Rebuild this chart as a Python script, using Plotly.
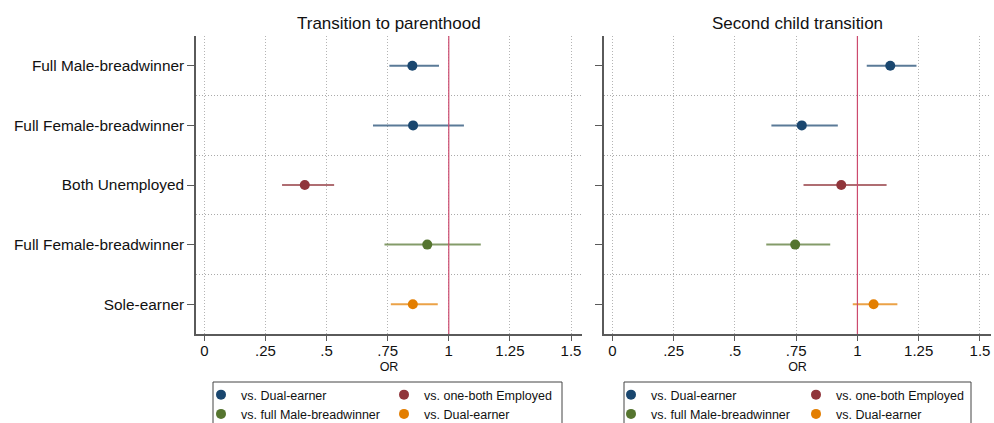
import plotly.graph_objects as go

# Row labels (top to bottom) shared by both panels
categories = [
    "Full Male-breadwinner",
    "Full Female-breadwinner",
    "Both Unemployed",
    "Full Female-breadwinner",
    "Sole-earner",
]

# Odds ratios and 95% CIs, transition to parenthood
parent_or = [0.851, 0.854, 0.411, 0.912, 0.853]
parent_lo = [0.757, 0.690, 0.318, 0.737, 0.763]
parent_hi = [0.960, 1.062, 0.531, 1.131, 0.955]

# Odds ratios and 95% CIs, second child transition
second_or = [1.134, 0.773, 0.934, 0.746, 1.066]
second_lo = [1.038, 0.649, 0.780, 0.628, 0.981]
second_hi = [1.241, 0.920, 1.119, 0.889, 1.163]

# Reference groups: label, rows belonging to it, colour, legend column
series_labels = ["vs. Dual-earner", "vs. one-both Employed",
                 "vs. full Male-breadwinner", "vs. Dual-earner"]
series_rows = [[0, 1], [2], [3], [4]]
series_colors = ["#1a476f", "#90353b", "#55752f", "#e37e00"]
series_column = [0, 1, 0, 1]

x_tickvals = [0, 0.25, 0.5, 0.75, 1, 1.25, 1.5]
x_ticktext = ["0", ".25", ".5", ".75", "1", "1.25", "1.5"]
REF_OR = 1

FONT = "Liberation Sans, Arial, Helvetica, sans-serif"
W, H = 994, 423
AXIS_COL = "#5a5a5a"
DOTS = "1px,2px"


def px_x(v):
    return v / W


def px_y(v):
    return 1 - v / H


def rgba(hex_col, a):
    h = hex_col.lstrip("#")
    r, g, b = int(h[0:2], 16), int(h[2:4], 16), int(h[4:6], 16)
    return f"rgba({r},{g},{b},{a})"


fig = go.Figure()

panels = [
    dict(est=parent_or, lo=parent_lo, hi=parent_hi, xa="x", ya="y",
         legends=["legend", "legend2"], title="Transition to parenthood",
         dom=[px_x(196), px_x(582)]),
    dict(est=second_or, lo=second_lo, hi=second_hi, xa="x2", ya="y2",
         legends=["legend3", "legend4"], title="Second child transition",
         dom=[px_x(604), px_x(991)]),
]

for p in panels:
    for label, rows, col, legcol in zip(series_labels, series_rows,
                                        series_colors, series_column):
        xs = [p["est"][r] for r in rows]
        plus = [p["hi"][r] - p["est"][r] for r in rows]
        minus = [p["est"][r] - p["lo"][r] for r in rows]
        fig.add_trace(go.Scatter(
            x=xs, y=rows, mode="markers", name=label,
            xaxis=p["xa"], yaxis=p["ya"],
            legend=p["legends"][legcol],
            marker=dict(color=col, size=10, line=dict(width=0)),
            error_x=dict(type="data", symmetric=False, array=plus,
                         arrayminus=minus, width=0, thickness=2,
                         color=rgba(col, 0.72)),
            hoverinfo="skip",
        ))

y_dom = [px_y(334), px_y(36)]

common_x = dict(
    range=[-0.034, 1.545], tickmode="array", tickvals=x_tickvals,
    ticktext=x_ticktext, showgrid=True, gridcolor="#b4b4b4", griddash=DOTS,
    gridwidth=1, zeroline=False, showline=True, linecolor=AXIS_COL,
    linewidth=1.5, ticks="outside", ticklen=5, tickcolor=AXIS_COL,
    ticklabelstandoff=-3,
    tickfont=dict(family=FONT, size=15, color="#111"),
    title=dict(text="OR", font=dict(family=FONT, size=12.5, color="#111"),
               standoff=4),
)
common_y = dict(
    range=[4.5, -0.5], domain=y_dom, tickmode="array",
    tickvals=list(range(len(categories))), showgrid=False, zeroline=False,
    showline=True, linecolor=AXIS_COL, linewidth=1.5, ticks="outside",
    ticklen=7, tickcolor=AXIS_COL,
    minor=dict(tickmode="array",
               tickvals=[i + 0.5 for i in range(len(categories) - 1)],
               showgrid=True, gridcolor="#aaaaaa", griddash=DOTS,
               gridwidth=1, ticklen=0),
)

fig.update_layout(
    width=W, height=H,
    margin=dict(l=0, r=0, t=0, b=0, autoexpand=False),
    paper_bgcolor="white", plot_bgcolor="white",
    font=dict(family=FONT, color="#111"),
    xaxis=dict(common_x, domain=panels[0]["dom"], anchor="y"),
    xaxis2=dict(common_x, domain=panels[1]["dom"], anchor="y2"),
    yaxis=dict(common_y, anchor="x", ticktext=categories,
               tickfont=dict(family=FONT, size=15.4, color="#111")),
    yaxis2=dict(common_y, anchor="x2", showticklabels=False),
)

# Reference line at OR = 1 in each panel
for p in panels:
    fig.add_shape(type="line", xref=p["xa"], yref=f"{p['ya']} domain",
                  x0=REF_OR, x1=REF_OR, y0=0, y1=1,
                  line=dict(color="#cc4a6e", width=1.2), layer="above")

# Panel titles
for p in panels:
    fig.add_annotation(text=p["title"], xref="paper", yref="paper",
                       x=(p["dom"][0] + p["dom"][1]) / 2, y=px_y(24),
                       xanchor="center", yanchor="middle", showarrow=False,
                       font=dict(family=FONT, size=17, color="#111"))

# Legends: two columns per panel inside a shared frame
legend_style = dict(orientation="v", traceorder="normal",
                    bgcolor="rgba(0,0,0,0)", borderwidth=0,
                    font=dict(family=FONT, size=12.5, color="#111"),
                    xanchor="left", yanchor="top", yref="paper",
                    y=px_y(380), tracegroupgap=0)
legend_lefts = {"legend": 201, "legend2": 384, "legend3": 611, "legend4": 796}
fig.update_layout(**{k: dict(legend_style, x=px_x(v))
                     for k, v in legend_lefts.items()})

for x0, x1 in [(213, 562), (624, 971)]:
    fig.add_shape(type="rect", xref="paper", yref="paper",
                  x0=px_x(x0), x1=px_x(x1), y0=px_y(440), y1=px_y(382),
                  line=dict(color="#444", width=1), fillcolor="rgba(0,0,0,0)")

fig.write_html("out.html")
